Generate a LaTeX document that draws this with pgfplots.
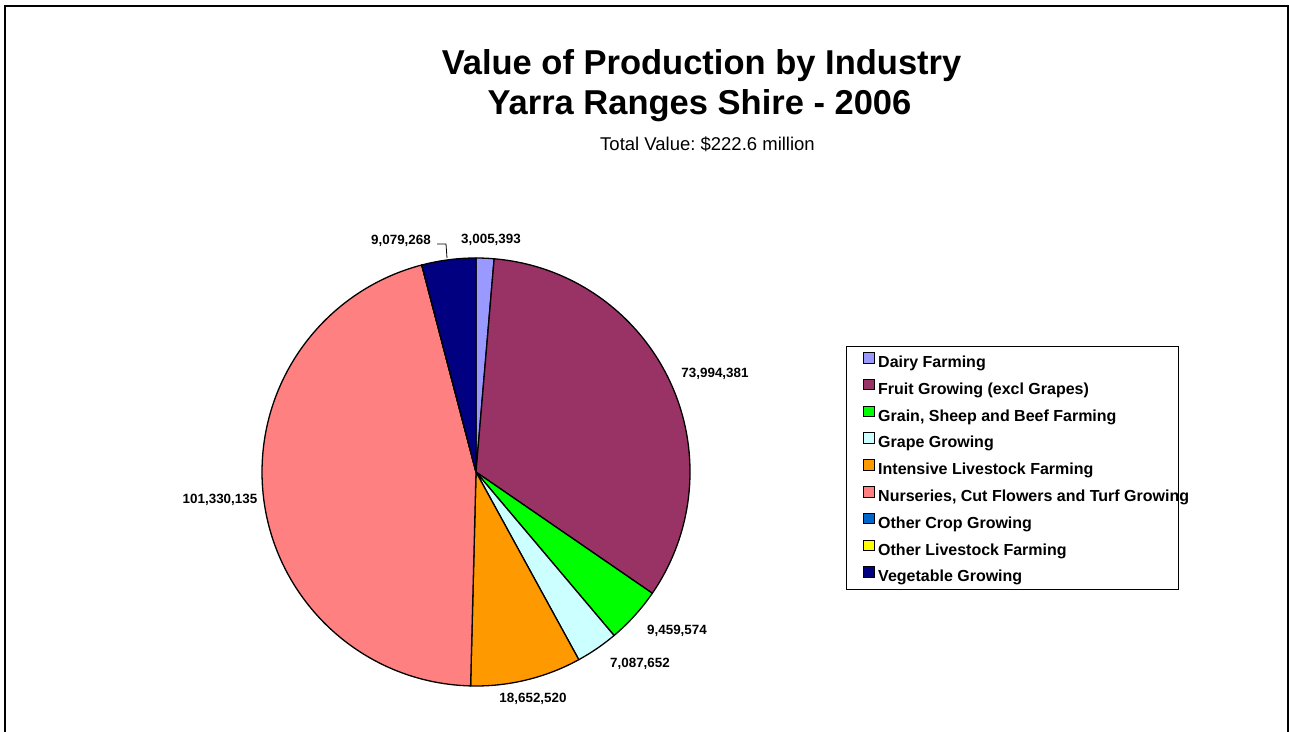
\documentclass[border=0pt]{standalone}
\usepackage{pgfplots}
\pgfplotsset{compat=1.18}
\usepackage{pgfplotstable}
\usepackage{fontspec}
\setmainfont{Liberation Sans}
\frenchspacing
\definecolor{dairy}{HTML}{9999FF}
\definecolor{fruit}{HTML}{993366}
\definecolor{grain}{HTML}{00FF00}
\definecolor{grape}{HTML}{CCFFFF}
\definecolor{intensive}{HTML}{FF9900}
\definecolor{nursery}{HTML}{FF8080}
\definecolor{othercrop}{HTML}{0066CC}
\definecolor{otherlive}{HTML}{FFFF00}
\definecolor{veg}{HTML}{000080}
% values in $ million
\pgfplotstableread{
value color
3.005393 dairy
73.994381 fruit
9.459574 grain
7.087652 grape
18.652520 intensive
101.330135 nursery
0 othercrop
0 otherlive
9.079268 veg
}\pietable
\begin{document}
\begin{tikzpicture}
\useasboundingbox (0,0) rectangle (1289pt,731pt);
% compute angles (clockwise from 12 o'clock)
\gdef\cum{0}
\foreach \i in {0,...,8}{%
  \pgfplotstablegetelem{\i}{value}\of\pietable
  \pgfmathsetmacro\tmp{\cum+\pgfplotsretval}%
  \xdef\cum{\tmp}%
}
\xdef\total{\cum}
\gdef\ang{90}
\foreach \i in {0,...,8}{%
  \pgfplotstablegetelem{\i}{value}\of\pietable
  \pgfmathsetmacro\e{\ang-(\pgfplotsretval/\total)*360}%
  \expandafter\xdef\csname sa\i\endcsname{\ang}%
  \expandafter\xdef\csname ea\i\endcsname{\e}%
  \pgfplotstablegetelem{\i}{color}\of\pietable
  \expandafter\xdef\csname col\i\endcsname{\pgfplotsretval}%
  \xdef\ang{\e}%
}
\begin{axis}[
  at={(0pt,0pt)}, anchor=south west,
  x=1pt, y=1pt, xmin=0, xmax=1289, ymin=0, ymax=731,
  enlargelimits=false, hide axis, clip=false,
  legend image code/.code={\draw[#1,draw=black,line width=0.8pt] (0pt,-2pt) rectangle (10.5pt,8.5pt);},
  legend cell align=left,
  legend style={at={(axis cs:846,385)}, anchor=north west, draw=black, line width=0.8pt,
    font=\bfseries\fontsize{16}{19}\selectfont,
    inner xsep=17pt, inner ysep=5pt, row sep=7.8pt,
    nodes={inner sep=0pt, text height=16pt, text depth=3pt},
    /tikz/every odd column/.append style={column sep=3.5pt}},
]
\pgfplotsinvokeforeach{0,...,8}{%
  \draw[fill=\csname col#1\endcsname, draw=black, line width=1.3pt, line join=round]
    (axis cs:476,259) -- ++(\csname sa#1\endcsname:214pt)
    arc[start angle=\csname sa#1\endcsname, end angle=\csname ea#1\endcsname, radius=214pt] -- cycle;
}
\addlegendimage{fill=dairy}\addlegendentry{Dairy Farming}
\addlegendimage{fill=fruit}\addlegendentry{Fruit Growing (excl Grapes)}
\addlegendimage{fill=grain}\addlegendentry{Grain, Sheep and Beef Farming}
\addlegendimage{fill=grape}\addlegendentry{Grape Growing}
\addlegendimage{fill=intensive}\addlegendentry{Intensive Livestock Farming}
\addlegendimage{fill=nursery}\addlegendentry{\makebox[283pt][l]{Nurseries, Cut Flowers and Turf Growing}}
\addlegendimage{fill=othercrop}\addlegendentry{Other Crop Growing}
\addlegendimage{fill=otherlive}\addlegendentry{Other Livestock Farming}
\addlegendimage{fill=veg}\addlegendentry{Vegetable Growing}
% titles
\node[anchor=base, font=\bfseries\fontsize{34.5}{40}\selectfont] at (axis cs:701.5,656) {Value of Production by Industry};
\node[anchor=base, font=\bfseries\fontsize{34.5}{40}\selectfont] at (axis cs:699.5,616) {Yarra Ranges Shire - 2006};
\node[anchor=base, font=\fontsize{18.5}{22}\selectfont] at (axis cs:707.5,580) {Total Value: \$222.6 million};
% data labels
\begin{scope}[every node/.style={font=\bfseries\fontsize{13.4}{15}\selectfont}]
\node at (axis cs:491,491) {3,005,393};
\node at (axis cs:401,490) {9,079,268};
\node at (axis cs:715,357) {73,994,381};
\node at (axis cs:677,100) {9,459,574};
\node at (axis cs:640,67) {7,087,652};
\node at (axis cs:533,32) {18,652,520};
\node at (axis cs:220,231) {101,330,135};
\end{scope}
\draw[black, line width=0.8pt] (axis cs:437,487) -- (axis cs:446,487) -- (axis cs:447,473);
% frame
\draw[black, line width=1.8pt] (axis cs:5,-5) -- (axis cs:5,725) -- (axis cs:1288,725) -- (axis cs:1288,-5);
\end{axis}
\end{tikzpicture}
\end{document}
